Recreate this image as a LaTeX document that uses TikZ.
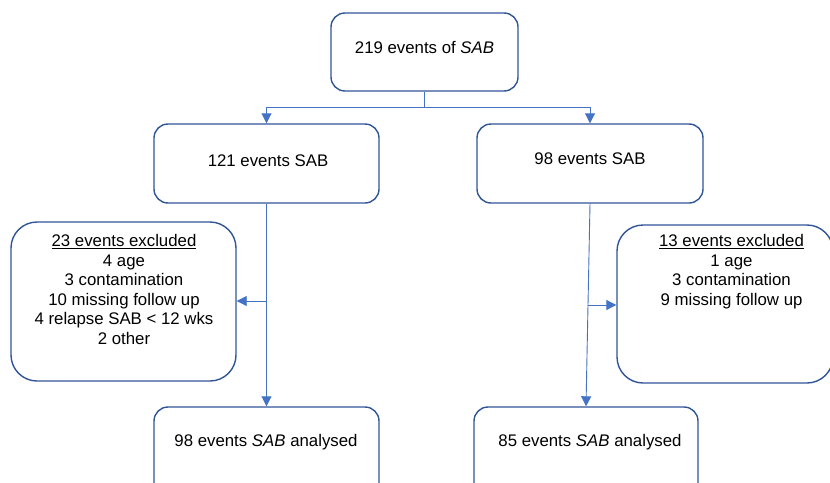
\documentclass[tikz,border=0pt]{standalone}
\usepackage{fontspec}
\setmainfont{Liberation Sans}
\usetikzlibrary{arrows.meta}
\definecolor{boxblue}{HTML}{2F5597}
\definecolor{lineblue}{HTML}{4472C4}
\begin{document}
\begin{tikzpicture}[x=1pt,y=-1pt,
  box/.style={draw=boxblue, line width=1.4pt, rounded corners=14pt, inner sep=0pt},
  bigbox/.style={box, rounded corners=26pt},
  txt/.style={inner sep=0pt, align=center, font=\fontsize{16.8}{19.5}\selectfont},
  conn/.style={draw=lineblue, line width=0.9pt},
  arr/.style={conn, -{Triangle[length=10pt,width=10pt]}}]
\useasboundingbox (0,0) rectangle (830,482);
\clip (0,0) rectangle (830,482);
% boxes
\node[box, minimum width=187pt, minimum height=78pt] (top) at (424.5,52) {};
\node[box, minimum width=225pt, minimum height=79pt] (b2l) at (266.5,163.5) {};
\node[box, minimum width=226pt, minimum height=79pt] (b2r) at (590,163.5) {};
\node[bigbox, minimum width=225pt, minimum height=159pt] (exl) at (123.5,301.5) {};
\node[bigbox, minimum width=216pt, minimum height=158pt] (exr) at (725,304) {};
\node[box, minimum width=225pt, minimum height=90pt] (b3l) at (266.5,452) {};
\node[box, minimum width=224pt, minimum height=90pt] (b3r) at (586,452) {};
% texts
\node[txt] (ttop) at (424.5,48) {219 events of \textit{SAB}};
\node[txt] (tb2l) at (268,161) {121 events SAB};
\node[txt] (tb2r) at (590,159) {98 events SAB};
\node[txt] (tb3l) at (266,442.5) {98 events \textit{SAB} analysed};
\node[txt] (tb3r) at (590,442.5) {85 events \textit{SAB} analysed};
\node[txt, anchor=north] (texl) at (124,234.5) {\underline{23 events excluded}\\4 age\\3 contamination\\10 missing follow up\\4 relapse SAB < 12 wks\\2 other};
\node[txt, anchor=north] (texr) at (731.5,234.5) {\underline{13 events excluded}\\1 age\\3 contamination\\9 missing follow up};
% connectors
\coordinate (split) at (424.5,107);
\draw[conn] (top.south) -- (split);
\draw[arr] (split) -| (b2l.north);
\draw[arr] (split) -| (b2r.north);
\draw[arr] (b2l.south) -- (b3l.north);
\draw[arr] (b2r.south) -- (b3r.north);
\coordinate (jl) at (266.5,301);
\draw[arr] (jl) -- (exl.east |- jl);
\coordinate (jr) at (588,305);
\draw[arr] (jr) -- (exr.west |- jr);
\end{tikzpicture}
\end{document}
